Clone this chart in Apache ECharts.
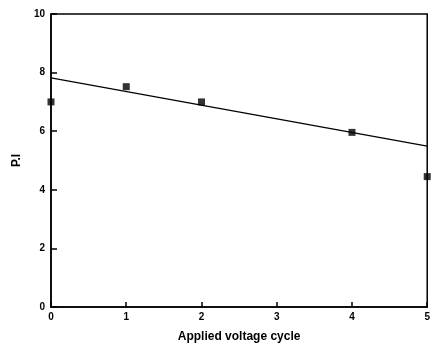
<!DOCTYPE html>
<html><head><meta charset="utf-8">
<script src="https://cdn.jsdelivr.net/npm/echarts@6/dist/echarts.min.js"></script>
<style>html,body{margin:0;padding:0;background:#fff}#c{width:433px;height:351px}</style>
</head><body><div id="c"></div>
<script>
const cycles = [0, 1, 2, 4, 5];
const piValues = [7.0, 7.52, 7.0, 5.96, 4.45];
const fitX = [0, 5];
const fitY = [7.82, 5.49];
const xTicks = [0, 1, 2, 3, 4, 5];
const yTicks = [0, 2, 4, 6, 8, 10];

const chart = echarts.init(document.getElementById('c'));
const font = 'Liberation Sans, Arial, sans-serif';
chart.setOption({
  animation: false,
  grid: { left: 51, right: 5, top: 14, bottom: 44, show: true, borderColor: '#000', borderWidth: 1.5, backgroundColor: 'transparent' },
  xAxis: {
    type: 'value', min: 0, max: 5, interval: 1,
    name: 'Applied voltage cycle', nameLocation: 'middle', nameGap: 24,
    nameTextStyle: { fontFamily: font, fontWeight: 'bold', fontSize: 12, color: '#000' },
    axisLine: { show: true, lineStyle: { color: '#000', width: 1.5 } },
    axisTick: { show: true, inside: true, length: 5, lineStyle: { color: '#000', width: 1.5 } },
    axisLabel: { fontFamily: font, fontWeight: 'bold', fontSize: 10, color: '#000', margin: 5,
      formatter: v => xTicks.includes(v) ? String(v) : '' },
    splitLine: { show: false }
  },
  yAxis: {
    type: 'value', min: 0, max: 10, interval: 2,
    name: 'P.I', nameLocation: 'middle', nameGap: 27, nameRotate: 90,
    nameTextStyle: { fontFamily: font, fontWeight: 'bold', fontSize: 12, color: '#000' },
    axisLine: { show: true, lineStyle: { color: '#000', width: 1.5 } },
    axisTick: { show: true, inside: true, length: 6, lineStyle: { color: '#000', width: 1.5 } },
    axisLabel: { fontFamily: font, fontWeight: 'bold', fontSize: 10, color: '#000', margin: 6,
      formatter: v => yTicks.includes(v) ? String(v) : '' },
    splitLine: { show: false }
  },
  series: [
    { type: 'line', data: fitX.map((x, i) => [x, fitY[i]]), symbol: 'none',
      lineStyle: { color: '#000', width: 1.2 }, silent: true },
    { type: 'scatter', data: cycles.map((x, i) => [x, piValues[i]]), symbol: 'rect', symbolSize: 7,
      itemStyle: { color: '#000' }, clip: false }
  ]
});
</script></body></html>
